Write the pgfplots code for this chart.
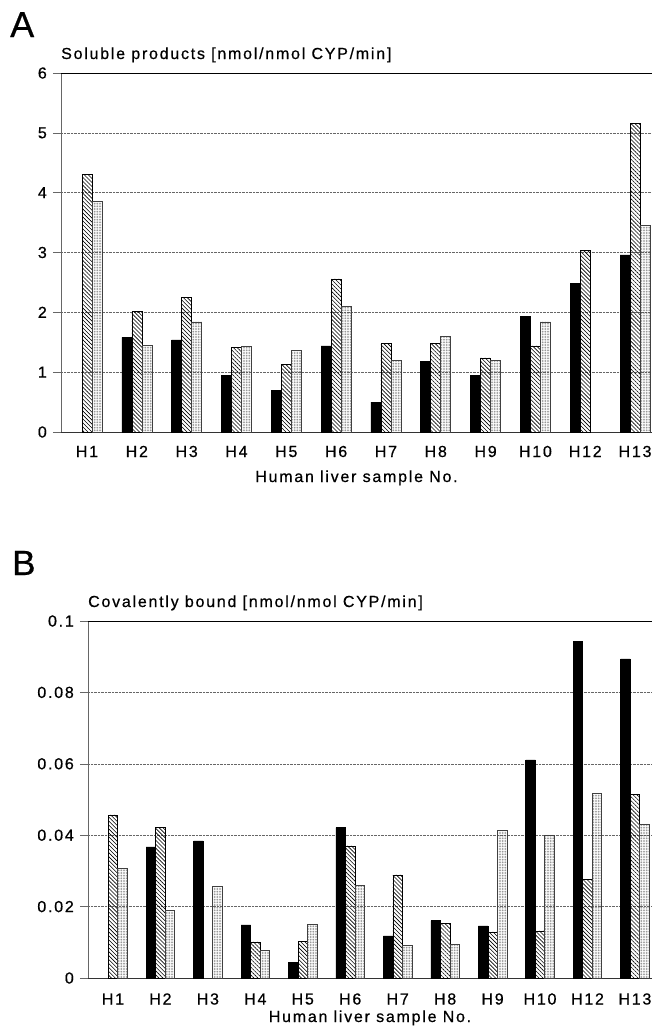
\documentclass[border=0pt]{standalone}
\usepackage{fontspec}
\setmainfont{Liberation Sans}[LetterSpace=11, FakeBold=0.6]
\usepackage{pgfplots}
\pgfplotsset{compat=1.18}
\usetikzlibrary{patterns,patterns.meta}

\pgfplotsset{
  livbars/.style={
    ybar=0pt,
    scale only axis,
    axis x line=bottom,
    axis y line=left,
    axis line style={-},
    x axis line style={black!80, line width=0.8pt},
    y axis line style={black!60, line width=0.8pt},
    ymajorgrids,
    grid style={densely dotted, black!60, line width=0.5pt},
    xtick={0,...,11},
    xticklabels={H1,H2,H3,H4,H5,H6,H7,H8,H9,H10,H12,H13},
    xtick style={draw=none},
    ytick style={black!60, line width=0.5pt},
    tick align=outside,
    major tick length=8pt,
    tick label style={font=\fontsize{16}{18}\selectfont, inner sep=0pt},
    /pgf/number format/assume math mode=true,
    yticklabel style={anchor=east, xshift=-6pt},
    label style={font=\fontsize{16}{18}\selectfont, inner sep=0pt},
    title style={font=\fontsize{16}{18}\selectfont, inner sep=0pt,
                 at={(axis description cs:0,1)}, anchor=base west, yshift=8pt},
    enlarge y limits=false,
    ymin=0,
  },
  blk/.style={fill=black, draw=black, line width=0.6pt},
  hat/.style={draw=black, line width=0.6pt,
              pattern={Lines[angle=-45, distance=2.8pt, line width=0.6pt]}, pattern color=black},
  dot/.style={draw=black!75, line width=0.6pt,
              pattern={Dots[distance=1.6pt, radius=0.42pt]}, pattern color=black!70},
}

\begin{document}
\begin{tikzpicture}
\useasboundingbox (0,0) rectangle (652pt,-1029pt);

\node[anchor=base west, inner sep=0pt, font=\fontsize{36}{40}\selectfont] at (10pt,-37pt) {A};
\node[anchor=base west, inner sep=0pt, font=\fontsize{35}{40}\selectfont] at (12pt,-575pt) {B};

% Panel A
\begin{axis}[livbars,
  at={(61pt,-432pt)}, anchor=south west,
  width=591pt, height=359pt,
  bar width=10pt,
  xmin=-0.522, xmax=11.34,
  ymax=6, ytick={0,1,2,3,4,5,6},
  xticklabel style={anchor=base, yshift=-17pt},
  title={Soluble products [nmol/nmol CYP/min]},
  xlabel={Human liver sample No.},
  xlabel style={at={(axis description cs:0.5,0)}, anchor=base, yshift=-50pt},
]
\addplot[blk] coordinates {(1,1.58) (2,1.54) (3,0.94) (4,0.69) (5,1.44) (6,0.50) (7,1.18) (8,0.94) (9,1.93) (10,2.49) (11,2.96)};
\addplot[hat] coordinates {(0,4.30) (1,2.02) (2,2.25) (3,1.42) (4,1.13) (5,2.56) (6,1.48) (7,1.48) (8,1.24) (9,1.44) (10,3.03) (11,5.16)};
\addplot[dot] coordinates {(0,3.85) (1,1.45) (2,1.84) (3,1.43) (4,1.37) (5,2.10) (6,1.20) (7,1.60) (8,1.20) (9,1.84) (11,3.45)};
\draw[black, line width=0.9pt] (rel axis cs:0,1) -- (rel axis cs:1,1);
\end{axis}

% Panel B
\begin{axis}[livbars,
  at={(88pt,-978pt)}, anchor=south west,
  width=564pt, height=357pt,
  bar width=9.5pt,
  xmin=-0.526, xmax=11.36,
  ymax=0.1, ytick={0,0.02,0.04,0.06,0.08,0.1},
  yticklabels={0,0.02,0.04,0.06,0.08,0.1},
  scaled y ticks=false,
  xticklabel style={anchor=base, yshift=-18.5pt},
  title={Covalently bound [nmol/nmol CYP/min]},
  xlabel={Human liver sample No.},
  xlabel style={at={(axis description cs:0.5,0)}, anchor=base, yshift=-44pt},
]
\addplot[blk] coordinates {(1,0.0367) (2,0.0384) (3,0.0149) (4,0.0043) (5,0.0421) (6,0.0118) (7,0.0161) (8,0.0146) (9,0.0611) (10,0.0942) (11,0.0894)};
\addplot[hat] coordinates {(0,0.0457) (1,0.0421) (3,0.0101) (4,0.0103) (5,0.0370) (6,0.0289) (7,0.0154) (8,0.0129) (9,0.0132) (10,0.0277) (11,0.0515)};
\addplot[dot] coordinates {(0,0.0307) (1,0.0189) (2,0.0258) (3,0.0078) (4,0.0150) (5,0.0259) (6,0.0092) (7,0.0095) (8,0.0415) (9,0.0401) (10,0.0517) (11,0.0431)};
\draw[black, line width=0.9pt] (rel axis cs:0,1) -- (rel axis cs:1,1);
\end{axis}
\end{tikzpicture}
\end{document}
